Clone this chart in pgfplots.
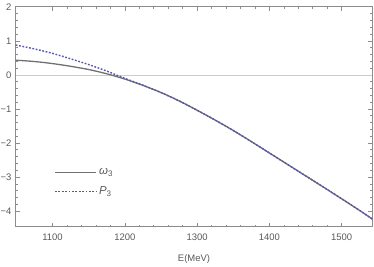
\documentclass[border=0pt]{standalone}
\usepackage{pgfplots}
\pgfplotsset{compat=1.18}
\usepackage{fontspec}
\setmainfont{Liberation Sans}
\definecolor{omg}{rgb}{0.44,0.44,0.44}
\definecolor{pth}{rgb}{0.34,0.34,0.68}
\definecolor{frm}{rgb}{0.55,0.55,0.55}
\definecolor{lbl}{rgb}{0.35,0.35,0.35}
\begin{document}
\begin{tikzpicture}
\path[use as bounding box] (-15.7bp,-40.3bp) rectangle (358.3bp,226.7bp);
\begin{axis}[
  at={(0,0)}, anchor=south west,
  scale only axis, width=356.6bp, height=220bp,
  xmin=1049, xmax=1542.4, ymin=-4.46, ymax=2,
  axis line style={frm, line width=0.6bp},
  tick style={frm, line width=0.5bp},
  tick align=inside,
  major tick length=4bp, minor tick length=2.2bp,
  xtick={1100,1200,1300,1400,1500},
  minor x tick num=4,
  ytick={-4,-3,-2,-1,0,1,2},
  yticklabels={−4,−3,−2,−1,0,1,2},
  minor y tick num=4,
  xticklabel style={font=\fontsize{9.5}{11}\selectfont, text=lbl, anchor=center, yshift=-11bp},
  yticklabel style={font=\fontsize{9.5}{11}\selectfont, text=lbl, anchor=east, inner sep=0pt, xshift=-4bp},
  xticklabels={1100,1200,1300,1400,1500},
  xlabel={E(MeV)},
  xlabel style={font=\fontsize{9.5}{11}\selectfont, text=lbl, at={(axis description cs:0.5,0)}, anchor=center, yshift=-32bp},
  legend style={draw=none, fill=none, at={(axis cs:1102,-3.16)}, anchor=west, font=\fontsize{11.5}{13}\selectfont, row sep=6bp, inner sep=0pt, nodes={inner sep=2.5bp}},
  legend cell align=left,
  legend image code/.code={\draw[#1] (0bp,0bp) -- (41bp,0bp);},
]
\draw[black!20, line width=0.6bp] (axis cs:1049,0) -- (axis cs:1542.4,0);
\addplot[omg, line width=1.3bp, smooth] coordinates {
(1049,0.43) (1075,0.39) (1100,0.33) (1125,0.25) (1150,0.155) (1175,0.03)
(1200,-0.125) (1225,-0.31) (1250,-0.52) (1275,-0.765) (1300,-1.04) (1325,-1.33)
(1350,-1.635) (1375,-1.96) (1400,-2.295) (1425,-2.63) (1450,-2.965) (1475,-3.30)
(1500,-3.64) (1525,-3.985) (1542.4,-4.235)};
\addlegendentry{\textcolor{lbl}{{\itshape ω}\textsubscript{3}}}
\addplot[pth, line width=1.4bp, dash pattern=on 1.8bp off 1.6bp, smooth] coordinates {
(1049,0.875) (1075,0.76) (1100,0.63) (1125,0.47) (1150,0.30) (1175,0.11)
(1200,-0.105) (1225,-0.305) (1250,-0.52) (1275,-0.765) (1300,-1.04) (1325,-1.33)
(1350,-1.635) (1375,-1.96) (1400,-2.295) (1425,-2.63) (1450,-2.965) (1475,-3.30)
(1500,-3.64) (1525,-3.985) (1542.4,-4.235)};
\addlegendentry{\textcolor{lbl}{{\itshape P}\textsubscript{3}}}
\end{axis}
\end{tikzpicture}
\end{document}
